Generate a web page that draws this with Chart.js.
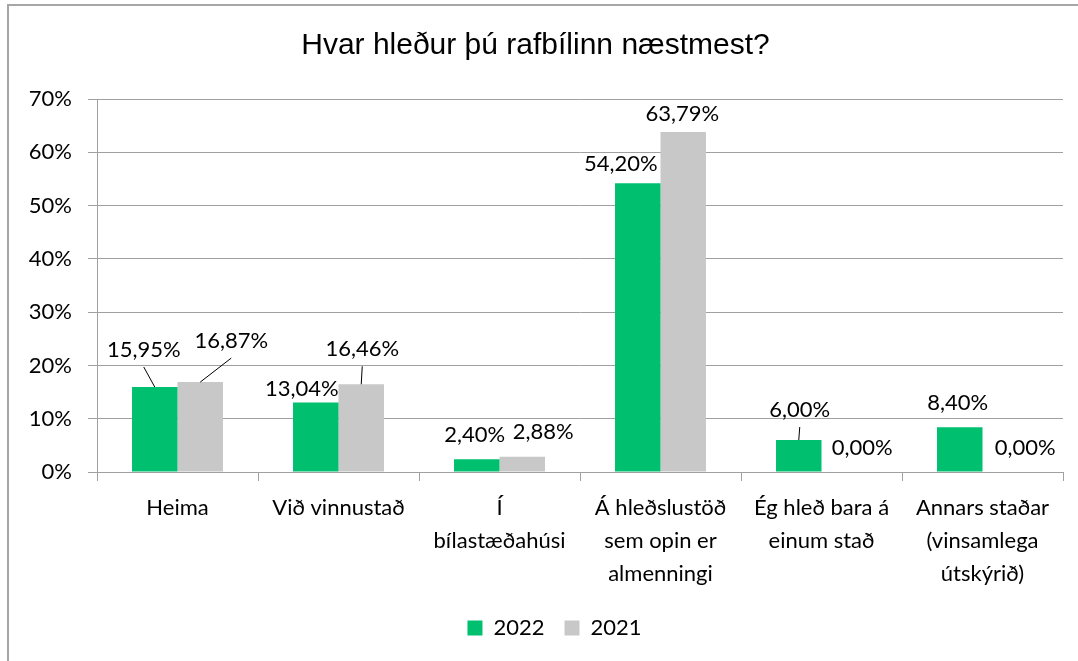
<!DOCTYPE html>
<html lang="is">
<head>
<meta charset="utf-8">
<title>Hvar hleður þú rafbílinn næstmest?</title>
<script src="https://cdn.jsdelivr.net/npm/chart.js@4.4.1/dist/chart.umd.min.js"></script>
<style>
    html, body { margin: 0; padding: 0; background: #ffffff; overflow: hidden; }
    #wrap { position: relative; width: 1078px; height: 661px; }
    #frame {
        position: absolute; left: 7px; top: 4px; width: 1200px; height: 800px;
        border-left: 2px solid #a6a6a6; border-top: 2px solid #a6a6a6;
        pointer-events: none;
    }
    canvas { position: absolute; left: 0; top: 0; }
</style>
</head>
<body>
<div id="wrap">
    <canvas id="chart" width="1078" height="661"></canvas>
    <div id="frame"></div>
</div>
<script>
/* gögn lesin af myndinni */
var categories = [
    ['Heima'],
    ['Við vinnustað'],
    ['Í', 'bílastæðahúsi'],
    ['Á hleðslustöð', 'sem opin er', 'almenningi'],
    ['Ég hleð bara á', 'einum stað'],
    ['Annars staðar', '(vinsamlega', 'útskýrið)']
];
var seriesNames = ['2022', '2021'];
var values2022 = [15.95, 13.04, 2.40, 54.20, 6.00, 8.40];
var values2021 = [16.87, 16.46, 2.88, 63.79, 0.00, 0.00];
var yTickMax = 70;
var yTickStep = 10;

(function () {
    'use strict';

    var C = {
        green: '#00bf6f',
        grey:  '#c8c8c8',
        grid:  '#a0a0a0',
        text:  '#000000'
    };
    var FONT = "Lato, 'Noto Sans', sans-serif";

    /* staðsetning gagnamerkja miðað við topp súlu: [dx, dy, leiðarlína] */
    var labelPos = [
        [[-11, -37, true], [-14, -14, false], [-2, -24, false], [-17, -19, false], [1, -30, true], [-2, -24, false]],
        [[31, -41, true], [1, -35, true], [21, -25, false], [-1, -18, false], [18, -24.5, false], [20, -24.5, false]]
    ];

    function fmt(v) {
        return v.toFixed(2).replace('.', ',') + '%';
    }

    /* gagnamerki með leiðarlínum (eins og í Excel) */
    var valueLabels = {
        id: 'valueLabels',
        afterDatasetsDraw: function (chart) {
            var ctx = chart.ctx;
            ctx.save();
            ctx.font = '22px ' + FONT;
            ctx.fillStyle = C.text;
            ctx.strokeStyle = '#000000';
            ctx.lineWidth = 1;
            ctx.textAlign = 'center';
            ctx.textBaseline = 'middle';
            chart.data.datasets.forEach(function (ds, di) {
                var meta = chart.getDatasetMeta(di);
                meta.data.forEach(function (bar, i) {
                    var p = labelPos[di][i];
                    var lx = bar.x + p[0];
                    var ly = bar.y + p[1];
                    if (p[2]) {
                        ctx.beginPath();
                        ctx.moveTo(bar.x, bar.y);
                        ctx.lineTo(lx, ly + 17);
                        ctx.stroke();
                    }
                    ctx.fillText(fmt(ds.data[i]), lx, ly);
                });
            });
            ctx.restore();
        }
    };

    /* hvítur bakgrunnur + skýring færð til hægri eins og í Excel */
    var frameFix = {
        id: 'frameFix',
        afterLayout: function (chart) {
            if (chart.legend) chart.legend.left = 46;
        },
        beforeDraw: function (chart) {
            var ctx = chart.ctx;
            ctx.save();
            ctx.fillStyle = '#ffffff';
            ctx.fillRect(0, 0, chart.width, chart.height);
            ctx.restore();
        }
    };

    new Chart(document.getElementById('chart'), {
        type: 'bar',
        data: {
            labels: categories,
            datasets: [{
                label: seriesNames[0],
                data: values2022,
                backgroundColor: C.green,
                borderWidth: 0
            }, {
                label: seriesNames[1],
                data: values2021,
                backgroundColor: C.grey,
                borderWidth: 0
            }]
        },
        options: {
            responsive: false,
            animation: false,
            devicePixelRatio: 1,
            layout: { padding: { top: 6, left: 8, right: 15, bottom: 12 } },
            datasets: {
                bar: { categoryPercentage: 0.565, barPercentage: 1.0 }
            },
            plugins: {
                title: {
                    display: true,
                    text: 'Hvar hleður þú rafbílinn næstmest?',
                    color: C.text,
                    font: { family: "'Liberation Sans', Arial, sans-serif", size: 30, weight: 'normal', lineHeight: 1.2 },
                    padding: { top: 22, bottom: 35 }
                },
                legend: {
                    position: 'bottom',
                    labels: {
                        boxWidth: 15,
                        boxHeight: 15,
                        padding: 20,
                        color: C.text,
                        font: { family: FONT, size: 22 }
                    }
                },
                tooltip: { enabled: false }
            },
            scales: {
                x: {
                    grid: {
                        display: true,
                        drawOnChartArea: false,
                        drawTicks: true,
                        tickLength: 9,
                        color: C.grid,
                        offset: true
                    },
                    border: { display: true, color: C.grid },
                    ticks: {
                        padding: 10,
                        color: C.text,
                        maxRotation: 0,
                        autoSkip: false,
                        font: { family: FONT, size: 22, lineHeight: 1.5 }
                    },
                    afterFit: function (s) { s.height = 125; }
                },
                y: {
                    min: 0,
                    max: yTickMax,
                    grid: { color: C.grid, tickLength: 9 },
                    border: { display: true, color: C.grid },
                    ticks: {
                        stepSize: yTickStep,
                        padding: 16,
                        color: C.text,
                        font: { family: FONT, size: 22 },
                        callback: function (v) { return v + '%'; }
                    },
                    afterFit: function (s) { s.width = 89; }
                }
            }
        },
        plugins: [frameFix, valueLabels]
    });
})();
</script>
</body>
</html>
